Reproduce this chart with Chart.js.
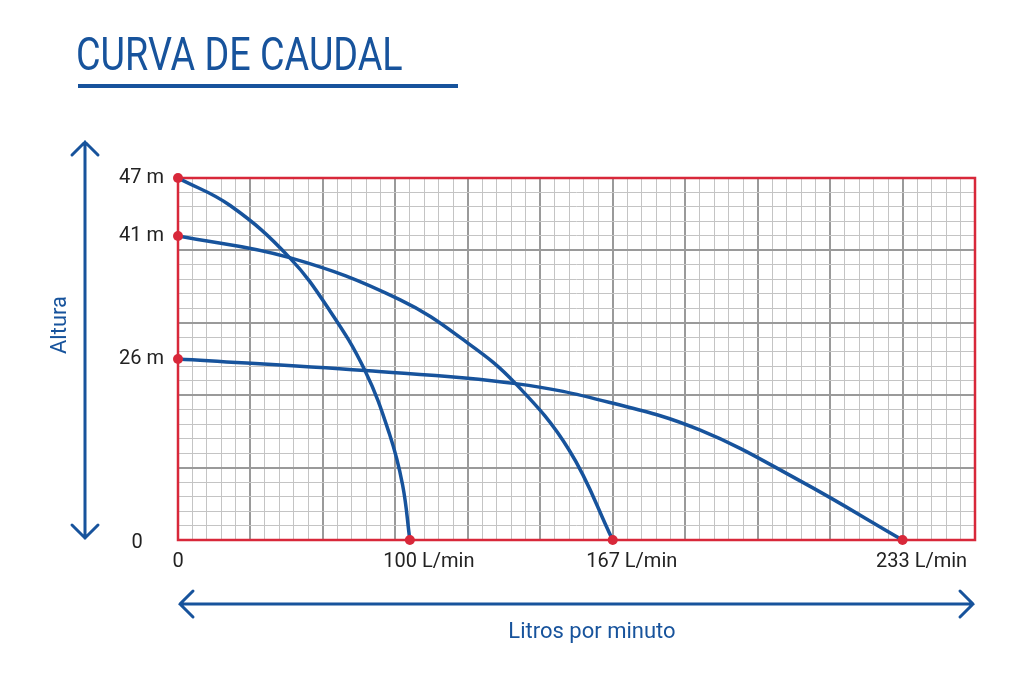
<!DOCTYPE html>
<html>
<head>
<meta charset="utf-8">
<script src="https://cdn.jsdelivr.net/npm/chart.js@4"></script>
<style>
  html, body { margin: 0; padding: 0; background: #fff; }
  #wrap { width: 1024px; height: 676px; }
</style>
</head>
<body>
<div id="wrap"><canvas id="c" width="1024" height="676"></canvas></div>
<script>
// grid units: x 0..55 small cells, y 0..25 small cells
const curve47 = [[0, 25], [3.6, 23.1], [7.7, 19.5], [10.5, 15.8], [12.9, 11.7], [14.6, 7.3], [15.5, 3.8], [16, 0]];
const curve41 = [[0, 21], [7.7, 19.5], [15.3, 16.6], [20, 13.6], [23.3, 10.8], [27, 6.2], [30, 0]];
const curve26 = [[0, 12.5], [12.9, 11.7], [23.3, 10.8], [29.8, 9.5], [36, 7.6], [42.9, 4.1], [50, 0]];
const endPoints = [[0, 25], [0, 21], [0, 12.5], [16, 0], [30, 0], [50, 0]];
const yLabels = [[25, "47 m"], [21, "41 m"], [12.5, "26 m"]];
const xLabels = [[16, "100 L/min"], [30, "167 L/min"], [50, "233 L/min"]];

const BLUE = "#17539c";
const RED = "#d8283a";
const FONT = "'Liberation Sans Narrow', 'Roboto', sans-serif";
const toPts = (arr) => arr.map(([x, y]) => ({ x, y }));

const decor = {
  id: "decor",
  afterDraw(chart) {
    const ctx = chart.ctx;
    const xs = chart.scales.x, ys = chart.scales.y;
    ctx.save();
    // title (condensed)
    ctx.fillStyle = BLUE;
    ctx.fillRect(78, 84, 380, 4);
    ctx.save();
    ctx.translate(76, 70);
    ctx.scale(0.82, 1);
    ctx.font = "46px " + FONT;
    ctx.fillText("CURVA DE CAUDAL", 0, 0);
    ctx.restore();
    // tick labels
    ctx.fillStyle = "#222";
    ctx.font = "20px " + FONT;
    ctx.textAlign = "right";
    ctx.textBaseline = "middle";
    yLabels.forEach(([v, t]) => ctx.fillText(t, 164, ys.getPixelForValue(v)));
    ctx.textAlign = "center";
    ctx.fillText("0", 137, 543);
    ctx.fillText("0", xs.getPixelForValue(0), 562);
    xLabels.forEach(([v, t]) => ctx.fillText(t, xs.getPixelForValue(v) + 19, 562));
    // arrows
    ctx.strokeStyle = BLUE;
    ctx.lineWidth = 3;
    ctx.lineCap = "round";
    ctx.beginPath();
    ctx.moveTo(85, 142); ctx.lineTo(85, 538);
    ctx.moveTo(72, 155); ctx.lineTo(85, 142); ctx.lineTo(98, 155);
    ctx.moveTo(72, 525); ctx.lineTo(85, 538); ctx.lineTo(98, 525);
    ctx.moveTo(180, 604); ctx.lineTo(973, 604);
    ctx.moveTo(193, 591); ctx.lineTo(180, 604); ctx.lineTo(193, 617);
    ctx.moveTo(960, 591); ctx.lineTo(973, 604); ctx.lineTo(960, 617);
    ctx.stroke();
    ctx.fillStyle = BLUE;
    ctx.font = "22px " + FONT;
    ctx.fillText("Litros por minuto", 592, 632);
    ctx.translate(60, 325);
    ctx.rotate(-Math.PI / 2);
    ctx.fillText("Altura", 0, 0);
    ctx.restore();
  },
};

const frame = {
  id: "frame",
  beforeDatasetsDraw(chart) {
    const a = chart.chartArea, ctx = chart.ctx;
    ctx.save();
    ctx.strokeStyle = RED;
    ctx.lineWidth = 2.5;
    ctx.strokeRect(a.left, a.top, a.right - a.left, a.bottom - a.top);
    ctx.restore();
  },
};

const lineSet = (data) => ({
  data: toPts(data),
  showLine: true,
  borderColor: BLUE,
  borderWidth: 3.5,
  pointRadius: 0,
  tension: 0.4,
  order: 1,
});

const gridColor = (c) => (c.tick.value % 5 === 0 ? "#9a9a9a" : "#c4c4c4");
const gridWidth = (c) => (c.tick.value % 5 === 0 ? 2 : 1);

new Chart(document.getElementById("c"), {
  type: "scatter",
  data: {
    datasets: [
      { data: toPts(endPoints), pointRadius: 5, pointBackgroundColor: RED, pointBorderWidth: 0, order: 0, clip: false },
      lineSet(curve47),
      lineSet(curve41),
      lineSet(curve26),
    ],
  },
  options: {
    responsive: false,
    animation: false,
    layout: { padding: { left: 178, top: 178, right: 49, bottom: 136 } },
    plugins: { legend: false, tooltip: { enabled: false } },
    scales: {
      x: {
        type: "linear", min: 0, max: 55,
        ticks: { display: false, stepSize: 1 },
        grid: { color: gridColor, lineWidth: gridWidth, drawTicks: false },
        border: { display: false },
      },
      y: {
        type: "linear", min: 0, max: 25,
        ticks: { display: false, stepSize: 1 },
        grid: { color: gridColor, lineWidth: gridWidth, drawTicks: false },
        border: { display: false },
      },
    },
  },
  plugins: [frame, decor],
});
</script>
</body>
</html>
